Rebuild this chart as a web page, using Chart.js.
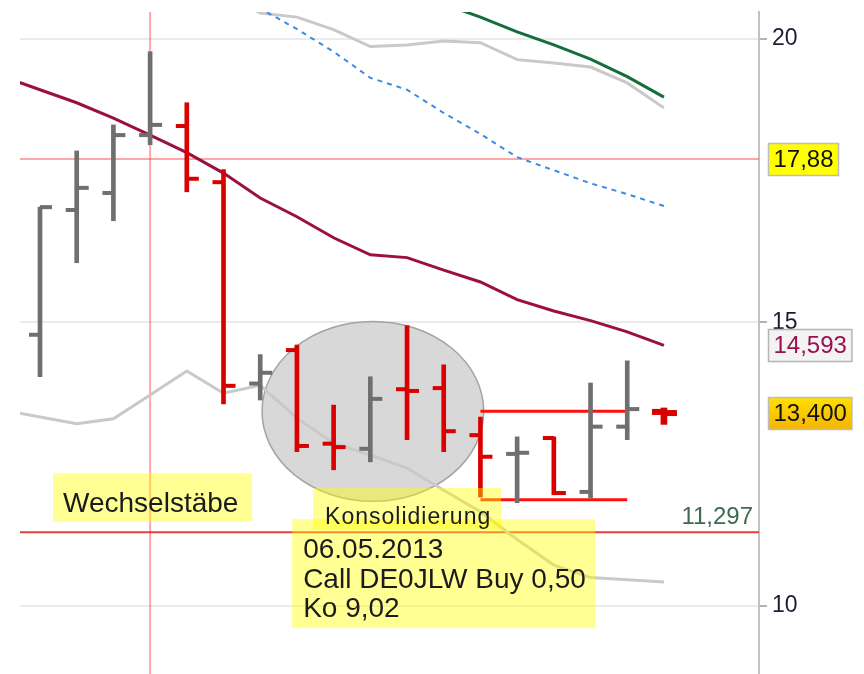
<!DOCTYPE html>
<html>
<head>
<meta charset="utf-8">
<script src="https://cdn.jsdelivr.net/npm/chart.js@4.4.1/dist/chart.umd.min.js"></script>
<style>
html,body{margin:0;padding:0;background:#ffffff;}
canvas{display:block;}
</style>
</head>
<body>
<canvas id="c" width="864" height="674"></canvas>
<script>
// ---- data ----
const sessions = [0,1,2,3,4,5,6,7,8,9,10,11,12,13,14,15,16,17];
const open  = [14.78,16.98,17.28,18.30,18.46,17.47,13.92,14.51,12.86,12.77,13.82,13.84,13.01,12.68,12.96,12.01,13.16,13.42];
const high  = [17.03,18.02,18.48,19.77,18.87,17.69,14.43,14.60,13.54,14.04,14.94,14.25,13.33,12.98,12.98,13.93,14.32,13.49];
const low   = [14.04,16.05,16.79,18.13,17.30,13.56,13.63,12.72,12.40,12.54,12.93,12.72,11.92,11.82,11.96,11.90,12.93,13.20];
const close = [17.03,17.37,18.30,18.48,17.53,13.88,14.11,12.82,12.80,13.65,13.79,13.08,12.63,12.70,11.99,13.16,13.47,13.40];

const maIndex   = [-1,0,1,2,3,4,5,6,7,8,9,10,11,12,13,14,15,16,17];
const maLong    = [19.33,19.10,18.87,18.60,18.30,17.99,17.63,17.19,16.86,16.49,16.19,16.14,15.92,15.71,15.40,15.20,15.03,14.83,14.593];
const bandUpper = [null,null,null,null,null,null,20.85,20.45,20.38,20.16,19.86,19.89,19.96,19.93,19.63,19.57,19.50,19.22,18.78];
const bandLower = [13.45,13.33,13.21,13.30,13.72,14.14,13.75,13.89,13.31,12.87,12.66,12.43,12.04,11.66,11.17,10.72,10.50,10.46,10.42];
const maGreen   = [null,null,null,null,null,null,null,null,null,null,null,null,20.61,20.38,20.12,19.89,19.64,19.33,18.97];
const maBlue    = [null,null,null,null,null,null,20.90,20.53,20.17,19.77,19.31,19.10,18.69,18.32,17.91,17.68,17.45,17.26,17.05];

const rangeSpan   = [12,16];
const rangeTop    = 13.43;
const rangeBottom = 11.87;

const levelResist  = 17.88;
const levelSupport = 11.297;
const markerSession = 3;

const yTicks = [10,15,20];
const yTickLabels = ['10','15','20'];

const priceLabels = [
  {value:17.88,  text:'17,88'},
  {value:14.593, text:'14,593'},
  {value:13.400, text:'13,400'}
];

// ---- helpers ----
const GREY_BAR = '#6f6f6f';
const RED_BAR  = '#d90000';
function barColor(i){ return close[i] >= open[i] ? GREY_BAR : RED_BAR; }
function pts(xs, ys){ return xs.map((x,k)=>({x:x, y:ys[k]})); }

const lastIdx = sessions.length - 1;
const mainSessions = sessions.slice(0, lastIdx);

Chart.defaults.font.family = "'Liberation Sans', Arial, sans-serif";

// ---- plugins ----
const backdropPlugin = {
  id: 'backdrop',
  beforeDatasetsDraw(chart){
    const {ctx, chartArea:a, scales:{x, y}} = chart;
    ctx.save();
    ctx.beginPath(); ctx.rect(a.left, a.top, a.right-a.left, a.bottom-a.top); ctx.clip();
    // consolidation ellipse
    const cx = x.getPixelForValue(9.07), cy = y.getPixelForValue(13.43);
    const rx = x.getPixelForValue(9.07 + 3.02) - cx;
    const ry = cy - y.getPixelForValue(13.43 + 1.585);
    ctx.beginPath();
    ctx.ellipse(cx, cy, rx, ry, 0, 0, Math.PI*2);
    ctx.fillStyle = 'rgba(190,190,190,0.6)';
    ctx.fill();
    ctx.lineWidth = 1.5;
    ctx.strokeStyle = '#a3a3a3';
    ctx.stroke();
    // level lines
    const yr = y.getPixelForValue(levelResist);
    ctx.strokeStyle = 'rgba(255,60,60,0.45)';
    ctx.lineWidth = 2;
    ctx.beginPath(); ctx.moveTo(a.left, yr); ctx.lineTo(a.right, yr); ctx.stroke();
    const xm = x.getPixelForValue(markerSession);
    ctx.beginPath(); ctx.moveTo(xm, a.top); ctx.lineTo(xm, a.bottom); ctx.stroke();
    const ys = y.getPixelForValue(levelSupport);
    ctx.strokeStyle = 'rgba(225,30,30,0.85)';
    ctx.lineWidth = 2;
    ctx.beginPath(); ctx.moveTo(a.left, ys); ctx.lineTo(a.right, ys); ctx.stroke();
    ctx.restore();
  }
};

const ohlcPlugin = {
  id: 'ohlcTicks',
  afterDatasetsDraw(chart){
    const {ctx, chartArea:a, scales:{x, y}} = chart;
    ctx.save();
    ctx.beginPath(); ctx.rect(a.left, a.top, a.right-a.left, a.bottom-a.top); ctx.clip();
    sessions.forEach(i=>{
      const px = x.getPixelForValue(i);
      const last = i === lastIdx;
      const w = last ? 6 : 4;
      const lenL = last ? 12 : 11;
      const lenR = last ? 13 : 12;
      ctx.fillStyle = barColor(i);
      const yo = y.getPixelForValue(open[i]);
      ctx.fillRect(px - lenL, yo - w/2, lenL, w);
      const yc = y.getPixelForValue(close[i]);
      ctx.fillRect(px, yc - w/2, lenR, w);
    });
    ctx.restore();

    // annotation notes
    ctx.save();
    const notes = [
      {ax:0.355, ay:12.345, w:199, h:49, font:"28px 'Liberation Sans', Arial, sans-serif", spacing:'0px',
       lines:['Wechselstäbe'], tx:10, ty:39, lh:0},
      {ax:7.44, ay:12.08, w:188, h:42, font:"23px 'Liberation Sans', Arial, sans-serif", spacing:'1px',
       lines:['Konsolidierung'], tx:12, ty:36, lh:0},
      {ax:6.87, ay:11.53, w:303, h:109, font:"28px 'Liberation Sans', Arial, sans-serif", spacing:'0px',
       lines:['06.05.2013','Call DE0JLW Buy 0,50','Ko 9,02'], tx:11, ty:39, lh:29.5}
    ];
    notes.forEach(n=>{
      const bx = x.getPixelForValue(n.ax), by = y.getPixelForValue(n.ay);
      ctx.fillStyle = 'rgba(255,255,0,0.42)';
      ctx.fillRect(bx, by, n.w, n.h);
    });
    notes.forEach(n=>{
      const bx = x.getPixelForValue(n.ax), by = y.getPixelForValue(n.ay);
      ctx.font = n.font;
      ctx.letterSpacing = n.spacing;
      ctx.fillStyle = '#1b1b1b';
      ctx.textBaseline = 'alphabetic';
      ctx.textAlign = 'left';
      n.lines.forEach((t,k)=>ctx.fillText(t, bx + n.tx, by + n.ty + k*n.lh));
    });
    ctx.letterSpacing = '0px';
    // support value text
    ctx.font = "24px 'Liberation Sans', Arial, sans-serif";
    ctx.fillStyle = '#3e6a52';
    ctx.textAlign = 'right';
    ctx.textBaseline = 'alphabetic';
    ctx.fillText('11,297', a.right - 6, y.getPixelForValue(levelSupport) - 8);
    ctx.restore();
  },
  afterDraw(chart){
    const {ctx, chartArea:a, scales:{y}} = chart;
    ctx.save();
    ctx.font = "24px 'Liberation Sans', Arial, sans-serif";
    ctx.textBaseline = 'middle';
    ctx.textAlign = 'left';
    const styles = [
      {fill:'#ffff00', stroke:'#bdbdbd', color:'#111111'},
      {fill:'#f3f3f3', stroke:'#b5b5b5', color:'#9b1050'},
      {fill:'grad',    stroke:'#bdbdbd', color:'#111111'}
    ];
    priceLabels.forEach((p,k)=>{
      const cy = y.getPixelForValue(p.value);
      const tw = ctx.measureText(p.text).width;
      const bx = a.right + 9.5, bw = tw + 10, bh = 32, byy = Math.round(cy - bh/2) + 0.5;
      const st = styles[k];
      if (st.fill === 'grad'){
        const g = ctx.createLinearGradient(0, byy, 0, byy+bh);
        g.addColorStop(0, '#ffe000'); g.addColorStop(1, '#f3b400');
        ctx.fillStyle = g;
      } else ctx.fillStyle = st.fill;
      ctx.fillRect(bx, byy, bw, bh);
      ctx.strokeStyle = st.stroke; ctx.lineWidth = 1.5;
      ctx.strokeRect(bx, byy, bw, bh);
      ctx.fillStyle = st.color;
      ctx.fillText(p.text, bx + 5, cy + 1);
    });
    ctx.restore();
  }
};

// ---- chart ----
const ctx = document.getElementById('c').getContext('2d');
new Chart(ctx, {
  type: 'bar',
  data: {
    datasets: [
      {
        type:'bar', label:'High-Low',
        data: mainSessions.map(i=>({x:i, y:[low[i], high[i]]})),
        backgroundColor: mainSessions.map(barColor),
        barThickness: 4, grouped:false, order:0
      },
      {
        type:'bar', label:'High-Low (current)',
        data: [{x:lastIdx, y:[low[lastIdx], high[lastIdx]]}],
        backgroundColor: [barColor(lastIdx)],
        barThickness: 6, grouped:false, order:0
      },
      { type:'line', label:'Range top', data: rangeSpan.map(s=>({x:s, y:rangeTop})),
        borderColor:'#ff1010', borderWidth:3, pointRadius:0, order:1 },
      { type:'line', label:'Range bottom', data: rangeSpan.map(s=>({x:s, y:rangeBottom})),
        borderColor:'#ff1010', borderWidth:3, pointRadius:0, order:1 },
      { type:'line', label:'MA long', data: pts(maIndex, maLong),
        borderColor:'#9b0f41', borderWidth:3, pointRadius:0, tension:0, order:2 },
      { type:'line', label:'Band upper', data: pts(maIndex, bandUpper),
        borderColor:'#c9c9c9', borderWidth:3, pointRadius:0, tension:0, order:3 },
      { type:'line', label:'Band lower', data: pts(maIndex, bandLower),
        borderColor:'#c9c9c9', borderWidth:3, pointRadius:0, tension:0, order:3 },
      { type:'line', label:'MA green', data: pts(maIndex, maGreen),
        borderColor:'#146e3c', borderWidth:3, pointRadius:0, tension:0, order:2 },
      { type:'line', label:'MA blue', data: pts(maIndex, maBlue),
        borderColor:'#3a8de0', borderWidth:2, borderDash:[5,5], pointRadius:0, tension:0, order:2 }
    ]
  },
  options: {
    responsive:false,
    animation:false,
    devicePixelRatio:1,
    layout:{ padding:{ left:20, top:12, right:0, bottom:0 } },
    plugins:{ legend:{display:false}, tooltip:{enabled:false} },
    scales:{
      x:{
        type:'linear', display:false, min:-0.545, max:19.59, offset:false,
        grid:{offset:false}
      },
      y:{
        type:'linear', position:'right', min:8.80, max:20.47,
        afterBuildTicks(scale){ scale.ticks = yTicks.map(v=>({value:v})); },
        afterFit(scale){ scale.width = 105; scale.paddingTop = 0; scale.paddingBottom = 0; },
        grid:{ color:'#ebebeb', lineWidth:2, tickLength:8, tickColor:'#9a9a9a', tickWidth:1.5 },
        border:{ display:true, color:'#c2c2c2', width:2 },
        ticks:{
          padding:5, color:'#1c1c38',
          font:{ size:23, family:"'Liberation Sans', Arial, sans-serif" },
          callback:(v)=>{ const k = yTicks.indexOf(v); return k>=0 ? yTickLabels[k] : ''; }
        }
      }
    }
  },
  plugins:[backdropPlugin, ohlcPlugin]
});
</script>
</body>
</html>
